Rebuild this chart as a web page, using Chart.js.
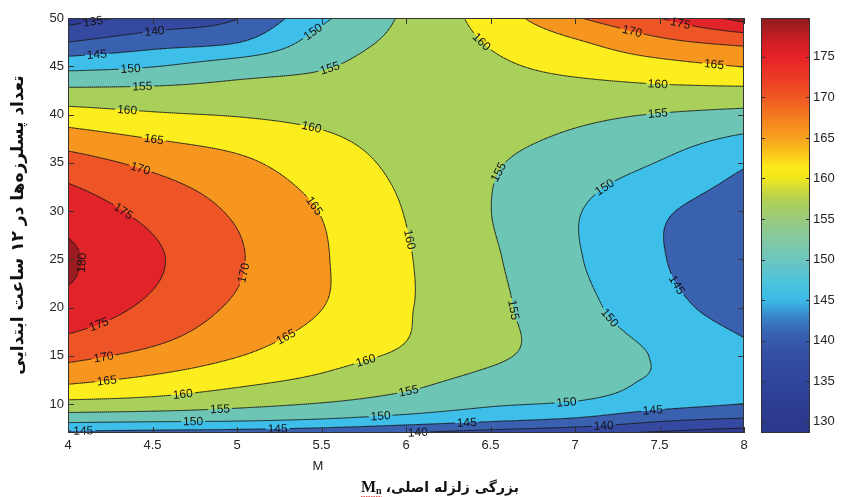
<!DOCTYPE html>
<html>
<head>
<meta charset="utf-8">
<script src="https://cdn.jsdelivr.net/npm/chart.js@4/dist/chart.umd.min.js"></script>
<style>
  html, body { margin: 0; padding: 0; background: #ffffff; }
  #wrap { width: 842px; height: 497px; }
</style>
</head>
<body>
<div id="wrap"><canvas id="c" width="842" height="497"></canvas></div>
<script>
// ---------------- data ----------------
const magnitudes = [4, 4.5, 5, 5.5, 6, 6.5, 7, 7.5, 8];                 // M (columns)
const aftershockCounts = [7, 8.5, 10, 12.5, 15, 20, 25, 30, 35, 40, 42.5, 45, 47.5, 50]; // N (rows)

const zN7    = [143.7, 143.2, 142.6, 141.6, 139.8, 137.8, 136.2, 134.2, 132.2];
const zN8_5  = [152.2, 151.7, 151.3, 150.2, 148.4, 146.5, 144.7, 141.4, 139.8];
const zN10   = [158.4, 157.7, 156.2, 154.7, 152.7, 150.6, 149.4, 146.8, 144.9];
const zN12_5 = [166.2, 163.9, 161.4, 159.1, 156.5, 153.6, 152.0, 149.4, 147.0];
const zN15   = [171.3, 168.6, 165.2, 161.8, 159.2, 155.9, 152.6, 149.6, 146.2];
const zN20   = [178.3, 173.9, 169.2, 165.1, 160.4, 156.2, 151.6, 146.8, 142.7];
const zN25   = [180.8, 175.8, 170.5, 165.5, 160.4, 155.7, 150.5, 145.4, 141.0];
const zN30   = [177.9, 173.5, 169.3, 164.8, 159.8, 155.05, 150.4, 145.7, 142.6];
const zN35   = [172.1, 168.8, 166.0, 162.3, 158.8, 155.5, 152.8, 149.8, 145.6];
const zN40   = [162.0, 160.5, 159.7, 158.8, 157.9, 157.3, 156.1, 154.8, 153.7];
const zN42_5 = [155.85, 156.0, 156.5, 156.7, 157.5, 158.3, 158.5, 158.9, 159.0];
const zN45   = [148.5, 149.8, 152.5, 154.6, 157.2, 159.2, 161.3, 163.3, 165.2];
const zN47_5 = [140.0, 142.9, 144.8, 152.0, 156.4, 160.4, 164.4, 168.8, 171.3];
const zN50   = [132.9, 136.6, 139.8, 149.0, 155.8, 162.0, 169.5, 175.0, 182.0];

const contourLevels = [135, 140, 145, 150, 155, 160, 165, 170, 175, 180];
const xTickValues = [4, 4.5, 5, 5.5, 6, 6.5, 7, 7.5, 8];
const yTickValues = [10, 15, 20, 25, 30, 35, 40, 45, 50];
const colorbarTicks = [130, 135, 140, 145, 150, 155, 160, 165, 170, 175];
const colorbarMin = 128.6;
const colorbarMax = 179.8;

// contour label anchors: level, M, N
const labelLevels = [135,140,145,150,155,160,165,170,175,180,175,170,165,160,155,150,145,145,170,165,165,160,160,160,155,150,155,150,140,145,160,155,155,150,150,150,145,145,140,170,175,165,160,155];
const labelM      = [4.15,4.51,4.17,4.37,4.44,4.35,4.51,4.43,4.35,4.03,4.19,4.21,4.23,4.68,4.9,4.74,4.09,5.24,5.04,5.3,5.42,5.44,6.01,5.77,5.55,5.44,6.02,5.85,6.07,6.36,6.44,6.56,6.62,6.95,7.15,7.21,7.58,7.46,7.17,7.33,7.62,7.82,7.49,7.49];
const labelN      = [49.4,48.9,46.3,44.9,42.8,40.5,37.7,34.5,30.6,24.7,17.9,14.9,12.3,10.9,9.4,8.0,7.3,7.5,23.6,16.6,30.1,38.6,27.0,14.0,44.8,48.8,10.9,8.7,7.1,7.8,47.4,33.9,19.7,10.1,33.2,19.0,22.1,9.4,7.6,48.1,49.1,44.7,43.2,40.2];

const yTitle = 'تعداد پسلرزه‌ها در ۱۲ ساعت ابتدایی';
const xTitlePersian = 'بزرگی زلزله اصلی،';
const xAxisLetter = 'M';

// ---------------- styles ----------------
const bandColors = ['#2d3b91', '#34499f', '#3a60b0', '#3dbfea', '#6dc6b5', '#a8d05a', '#fbed1e', '#f7961f', '#ee5526', '#e1232a', '#9c1b20'];
const cbStopValues = [128.6, 132, 136, 139, 141, 143, 145, 147, 149.5, 152, 155, 157.5, 160, 161.5, 163, 165, 167.5, 170, 172.5, 175, 177, 179.8];
const cbStopColors = ['#2a378b','#2d3d93','#3147a0','#3553a8','#3862b3','#3a86cc','#3bbbe8','#4ac2de','#67c5c3','#7fc8a8','#9acb7c','#b3d150','#efe61e','#fde91a','#fbc61b','#f7a11e','#f47d20','#ef5823','#eb3a25','#e62128','#cc1f23','#8b1b1c'];

const zRows = [zN7, zN8_5, zN10, zN12_5, zN15, zN20, zN25, zN30, zN35, zN40, zN42_5, zN45, zN47_5, zN50];

// ---------------- interpolation helpers (piecewise cubic Hermite) ----------------
function tangents(xs, ys) {
  const n = xs.length, m = new Array(n);
  for (let i = 1; i < n - 1; i++) {
    const h0 = xs[i] - xs[i-1], h1 = xs[i+1] - xs[i];
    const d0 = (ys[i] - ys[i-1]) / h0, d1 = (ys[i+1] - ys[i]) / h1;
    m[i] = (d0 * h1 + d1 * h0) / (h0 + h1);
  }
  const dF = (ys[1] - ys[0]) / (xs[1] - xs[0]);
  const dL = (ys[n-1] - ys[n-2]) / (xs[n-1] - xs[n-2]);
  m[0] = n > 2 ? (3 * dF - m[1]) / 2 : dF;
  m[n-1] = n > 2 ? (3 * dL - m[n-2]) / 2 : dL;
  return m;
}
function hermite(xs, ys, ms, x) {
  const n = xs.length;
  let i = 0;
  if (x >= xs[n-1]) i = n - 2;
  else if (x > xs[0]) { while (x > xs[i+1]) i++; }
  const h = xs[i+1] - xs[i], t = (x - xs[i]) / h, t2 = t * t, t3 = t2 * t;
  return (2*t3 - 3*t2 + 1) * ys[i] + (t3 - 2*t2 + t) * h * ms[i] + (-2*t3 + 3*t2) * ys[i+1] + (t3 - t2) * h * ms[i+1];
}
function hexToRgb(h) { return [parseInt(h.substr(1,2),16), parseInt(h.substr(3,2),16), parseInt(h.substr(5,2),16)]; }
const bandRgb = bandColors.map(hexToRgb);
const labelFont = '12px "Liberation Sans", Arial, sans-serif';

const contourPlugin = {
  id: 'contourPlugin',
  beforeDatasetsDraw(chart) {
    const ctx = chart.ctx, ca = chart.chartArea;
    const xS = chart.scales.x, yS = chart.scales.y;
    const L0 = Math.round(ca.left), T0 = Math.round(ca.top);
    const W = Math.round(ca.right) - L0, H = Math.round(ca.bottom) - T0;
    const cols = magnitudes.map((m, j) => zRows.map(r => r[j]));
    const colT = cols.map(c => tangents(aftershockCounts, c));
    const mAt = new Float64Array(W);
    for (let px = 0; px < W; px++) mAt[px] = xS.getValueForPixel(L0 + px + 0.5);
    const vals = new Float32Array(W * H);
    const off = document.createElement('canvas'); off.width = W; off.height = H;
    const octx = off.getContext('2d');
    const img = octx.createImageData(W, H);
    for (let py = 0; py < H; py++) {
      const N = yS.getValueForPixel(T0 + py + 0.5);
      const cv = cols.map((c, j) => hermite(aftershockCounts, c, colT[j], N));
      const rt = tangents(magnitudes, cv);
      for (let px = 0; px < W; px++) {
        const v = hermite(magnitudes, cv, rt, mAt[px]);
        const k = py * W + px;
        vals[k] = v;
        let b = Math.floor((v - 130) / 5);
        if (b < 0) b = 0; if (b > 10) b = 10;
        const c = bandRgb[b];
        img.data[k*4] = c[0]; img.data[k*4+1] = c[1]; img.data[k*4+2] = c[2]; img.data[k*4+3] = 255;
      }
    }
    octx.putImageData(img, 0, 0);
    ctx.drawImage(off, L0, T0);

    function valAt(x, y) {
      let fx = x - L0 - 0.5, fy = y - T0 - 0.5;
      fx = Math.max(0, Math.min(W - 1.001, fx)); fy = Math.max(0, Math.min(H - 1.001, fy));
      const ix = Math.floor(fx), iy = Math.floor(fy), tx = fx - ix, ty = fy - iy;
      const a = vals[iy*W+ix], b = vals[iy*W+ix+1], c = vals[(iy+1)*W+ix], d = vals[(iy+1)*W+ix+1];
      return (a*(1-tx) + b*tx) * (1-ty) + (c*(1-tx) + d*tx) * ty;
    }

    // marching squares on a 2px lattice
    const step = 2;
    const gxs = [], gys = [];
    for (let px = 0; px < W; px += step) gxs.push(px);
    if (gxs[gxs.length-1] !== W - 1) gxs.push(W - 1);
    for (let py = 0; py < H; py += step) gys.push(py);
    if (gys[gys.length-1] !== H - 1) gys.push(H - 1);
    const segs = {};
    contourLevels.forEach(L => segs[L] = []);
    for (let j = 0; j < gys.length - 1; j++) {
      for (let i = 0; i < gxs.length - 1; i++) {
        const x0 = gxs[i], x1 = gxs[i+1], y0 = gys[j], y1 = gys[j+1];
        const v00 = vals[y0*W+x0], v10 = vals[y0*W+x1], v01 = vals[y1*W+x0], v11 = vals[y1*W+x1];
        const lo = Math.min(v00, v10, v01, v11), hi = Math.max(v00, v10, v01, v11);
        for (const L of contourLevels) {
          if (L < lo || L > hi) continue;
          const pts = [];
          const edge = (va, vb, xa, ya, xb, yb) => {
            if ((va < L) !== (vb < L)) {
              const t = (L - va) / (vb - va);
              pts.push([L0 + 0.5 + xa + (xb - xa) * t, T0 + 0.5 + ya + (yb - ya) * t]);
            }
          };
          edge(v00, v10, x0, y0, x1, y0);
          edge(v10, v11, x1, y0, x1, y1);
          edge(v11, v01, x1, y1, x0, y1);
          edge(v01, v00, x0, y1, x0, y0);
          if (pts.length === 2) segs[L].push(pts[0], pts[1]);
          else if (pts.length === 4) {
            const center = (v00 + v10 + v01 + v11) / 4;
            if ((center < L) === (v00 < L)) { segs[L].push(pts[0], pts[3], pts[1], pts[2]); }
            else { segs[L].push(pts[0], pts[1], pts[2], pts[3]); }
          }
        }
      }
    }

    // labels
    ctx.save();
    ctx.font = labelFont;
    const labels = [];
    for (let k = 0; k < labelLevels.length; k++) {
      const L = labelLevels[k];
      let x = xS.getPixelForValue(labelM[k]), y = yS.getPixelForValue(labelN[k]);
      let gx = 0, gy = 0;
      for (let it = 0; it < 8; it++) {
        const v = valAt(x, y);
        gx = (valAt(x + 1, y) - valAt(x - 1, y)) / 2;
        gy = (valAt(x, y + 1) - valAt(x, y - 1)) / 2;
        const g2 = gx*gx + gy*gy;
        if (g2 < 1e-9) break;
        let s = (v - L) / g2;
        let dx = -s * gx, dy = -s * gy;
        const dl = Math.hypot(dx, dy);
        if (dl > 6) { dx *= 6 / dl; dy *= 6 / dl; }
        x += dx; y += dy;
      }
      let ang = Math.atan2(gx, -gy);
      if (ang > Math.PI / 2) ang -= Math.PI;
      if (ang <= -Math.PI / 2) ang += Math.PI;
      const text = String(L);
      const w = ctx.measureText(text).width;
      labels.push({ L, x, y, ang, text, hw: w / 2 + 2, hh: 6 });
    }
    ctx.restore();

    // contour lines, broken under their own labels
    for (const L of contourLevels) {
      ctx.save();
      ctx.beginPath();
      ctx.rect(0, 0, chart.width, chart.height);
      labels.filter(l => l.L === L).forEach(l => {
        const c = Math.cos(l.ang), s = Math.sin(l.ang);
        const corners = [[-l.hw, -l.hh], [l.hw, -l.hh], [l.hw, l.hh], [-l.hw, l.hh]].map(([u, v]) => [l.x + u*c - v*s, l.y + u*s + v*c]);
        ctx.moveTo(corners[0][0], corners[0][1]);
        for (let q = 1; q < 4; q++) ctx.lineTo(corners[q][0], corners[q][1]);
        ctx.closePath();
      });
      ctx.clip('evenodd');
      ctx.beginPath();
      const sg = segs[L];
      for (let q = 0; q < sg.length; q += 2) {
        ctx.moveTo(sg[q][0], sg[q][1]);
        ctx.lineTo(sg[q+1][0], sg[q+1][1]);
      }
      ctx.strokeStyle = 'rgba(25,25,25,0.85)';
      ctx.lineWidth = 0.8;
      ctx.lineCap = 'round';
      ctx.stroke();
      ctx.restore();
    }
    ctx.save();
    ctx.font = labelFont;
    ctx.fillStyle = '#141414';
    ctx.textAlign = 'center';
    ctx.textBaseline = 'middle';
    labels.forEach(l => {
      ctx.save();
      ctx.translate(l.x, l.y);
      ctx.rotate(l.ang);
      ctx.fillText(l.text, 0, 0.5);
      ctx.restore();
    });
    ctx.restore();
  },
  afterDraw(chart) {
    const ctx = chart.ctx, ca = chart.chartArea;
    const xS = chart.scales.x, yS = chart.scales.y, cbS = chart.scales.cb;
    ctx.save();
    // frame
    ctx.strokeStyle = '#333';
    ctx.lineWidth = 1;
    ctx.strokeRect(Math.round(ca.left) + 0.5, Math.round(ca.top) + 0.5, Math.round(ca.right - ca.left) - 1, Math.round(ca.bottom - ca.top) - 1);
    // inward ticks
    ctx.beginPath();
    xTickValues.forEach(v => {
      const x = Math.round(xS.getPixelForValue(v)) + 0.5;
      ctx.moveTo(x, ca.bottom); ctx.lineTo(x, ca.bottom - 6);
      ctx.moveTo(x, ca.top); ctx.lineTo(x, ca.top + 6);
    });
    yTickValues.forEach(v => {
      const y = Math.round(yS.getPixelForValue(v)) + 0.5;
      ctx.moveTo(ca.left, y); ctx.lineTo(ca.left + 6, y);
      ctx.moveTo(ca.right, y); ctx.lineTo(ca.right - 6, y);
    });
    ctx.stroke();

    // colorbar
    const cbL = 761, cbR = 810;
    const cbTop = cbS.getPixelForValue(colorbarMax), cbBot = cbS.getPixelForValue(colorbarMin);
    const grad = ctx.createLinearGradient(0, cbBot, 0, cbTop);
    cbStopValues.forEach((v, i) => {
      const off = (cbBot - cbS.getPixelForValue(v)) / (cbBot - cbTop);
      grad.addColorStop(Math.max(0, Math.min(1, off)), cbStopColors[i]);
    });
    ctx.fillStyle = grad;
    ctx.fillRect(cbL, cbTop, cbR - cbL, cbBot - cbTop);
    ctx.strokeStyle = '#333';
    ctx.strokeRect(cbL + 0.5, Math.round(cbTop) + 0.5, cbR - cbL - 1, Math.round(cbBot - cbTop) - 1);
    ctx.beginPath();
    colorbarTicks.forEach(v => {
      const y = Math.round(cbS.getPixelForValue(v)) + 0.5;
      ctx.moveTo(cbL, y); ctx.lineTo(cbL + 4, y);
      ctx.moveTo(cbR, y); ctx.lineTo(cbR - 4, y);
    });
    ctx.stroke();

    // x axis letter
    ctx.fillStyle = '#222';
    ctx.font = '13px "Liberation Sans", Arial, sans-serif';
    ctx.textAlign = 'center';
    ctx.textBaseline = 'middle';
    ctx.fillText(xAxisLetter, 318, 466);

    // y title (Persian, rotated)
    ctx.save();
    ctx.translate(19, 225);
    ctx.rotate(-Math.PI / 2);
    ctx.direction = 'rtl';
    let fs = 15;
    ctx.font = 'bold ' + fs + 'px "DejaVu Sans", sans-serif';
    let w = ctx.measureText(yTitle).width;
    fs = Math.max(10, Math.min(17, fs * 318 / w));
    ctx.font = 'bold ' + fs.toFixed(1) + 'px "DejaVu Sans", sans-serif';
    ctx.textAlign = 'center';
    ctx.textBaseline = 'middle';
    ctx.fillStyle = '#111';
    ctx.fillText(yTitle, 0, 0);
    ctx.restore();

    // x title: Persian + M_n
    ctx.save();
    ctx.fillStyle = '#111';
    ctx.textBaseline = 'alphabetic';
    let pf = 14;
    ctx.font = 'bold ' + pf + 'px "DejaVu Sans", sans-serif';
    ctx.direction = 'rtl';
    const wP = ctx.measureText(xTitlePersian).width;
    ctx.direction = 'ltr';
    ctx.font = 'bold 16px "Liberation Serif", "Times New Roman", serif';
    const wM = ctx.measureText('M').width;
    ctx.font = 'bold 10px "Liberation Serif", "Times New Roman", serif';
    const wn = ctx.measureText('n').width;
    const total = wM + wn + 4 + wP;
    const x0 = 440 - total / 2, base = 492;
    ctx.font = 'bold 16px "Liberation Serif", "Times New Roman", serif';
    ctx.textAlign = 'left';
    ctx.fillText('M', x0, base);
    ctx.font = 'bold 10px "Liberation Serif", "Times New Roman", serif';
    ctx.fillText('n', x0 + wM, base + 2);
    ctx.strokeStyle = 'rgba(210,40,40,0.8)';
    ctx.setLineDash([1.5, 1]);
    ctx.beginPath();
    ctx.moveTo(x0, base + 4.5); ctx.lineTo(x0 + wM + wn, base + 4.5);
    ctx.stroke();
    ctx.setLineDash([]);
    ctx.font = 'bold ' + pf + 'px "DejaVu Sans", sans-serif';
    ctx.direction = 'rtl';
    ctx.textAlign = 'right';
    ctx.fillText(xTitlePersian, x0 + total, base);
    ctx.restore();

    ctx.restore();
  }
};

const gridPoints = [];
zRows.forEach((row, i) => row.forEach((z, j) => gridPoints.push({ x: magnitudes[j], y: aftershockCounts[i], z })));

const tickFont = { family: '"Liberation Sans", Arial, sans-serif', size: 13 };

new Chart(document.getElementById('c'), {
  type: 'scatter',
  data: { datasets: [{ data: gridPoints, pointRadius: 0, pointHoverRadius: 0, showLine: false }] },
  options: {
    responsive: false,
    animation: false,
    events: [],
    layout: { padding: { top: 18, right: 0, bottom: 0, left: 0 } },
    plugins: { legend: { display: false }, tooltip: { enabled: false }, title: { display: false } },
    scales: {
      x: {
        type: 'linear', position: 'bottom', min: 4, max: 8,
        afterBuildTicks: s => { s.ticks = xTickValues.map(v => ({ value: v })); },
        afterFit: s => { s.height = 64; s.paddingLeft = 0; s.paddingRight = 0; },
        grid: { display: false, drawTicks: false },
        border: { display: false },
        ticks: { font: tickFont, color: '#262626', padding: 5, maxRotation: 0, autoSkip: false, callback: v => String(v) }
      },
      y: {
        type: 'linear', position: 'left', min: 7, max: 50,
        afterBuildTicks: s => { s.ticks = yTickValues.map(v => ({ value: v })); },
        afterFit: s => { s.width = 68; s.paddingTop = 0; s.paddingBottom = 0; },
        grid: { display: false, drawTicks: false },
        border: { display: false },
        ticks: { font: tickFont, color: '#262626', padding: 4, autoSkip: false, callback: v => String(v) }
      },
      cb: {
        type: 'linear', position: 'right', min: colorbarMin, max: colorbarMax,
        afterBuildTicks: s => { s.ticks = colorbarTicks.map(v => ({ value: v })); },
        afterFit: s => { s.width = 98; s.paddingTop = 0; s.paddingBottom = 0; },
        grid: { display: false, drawTicks: false },
        border: { display: false },
        ticks: { font: tickFont, color: '#262626', padding: 69, autoSkip: false, callback: v => String(v) }
      }
    }
  },
  plugins: [contourPlugin]
});
</script>
</body>
</html>
